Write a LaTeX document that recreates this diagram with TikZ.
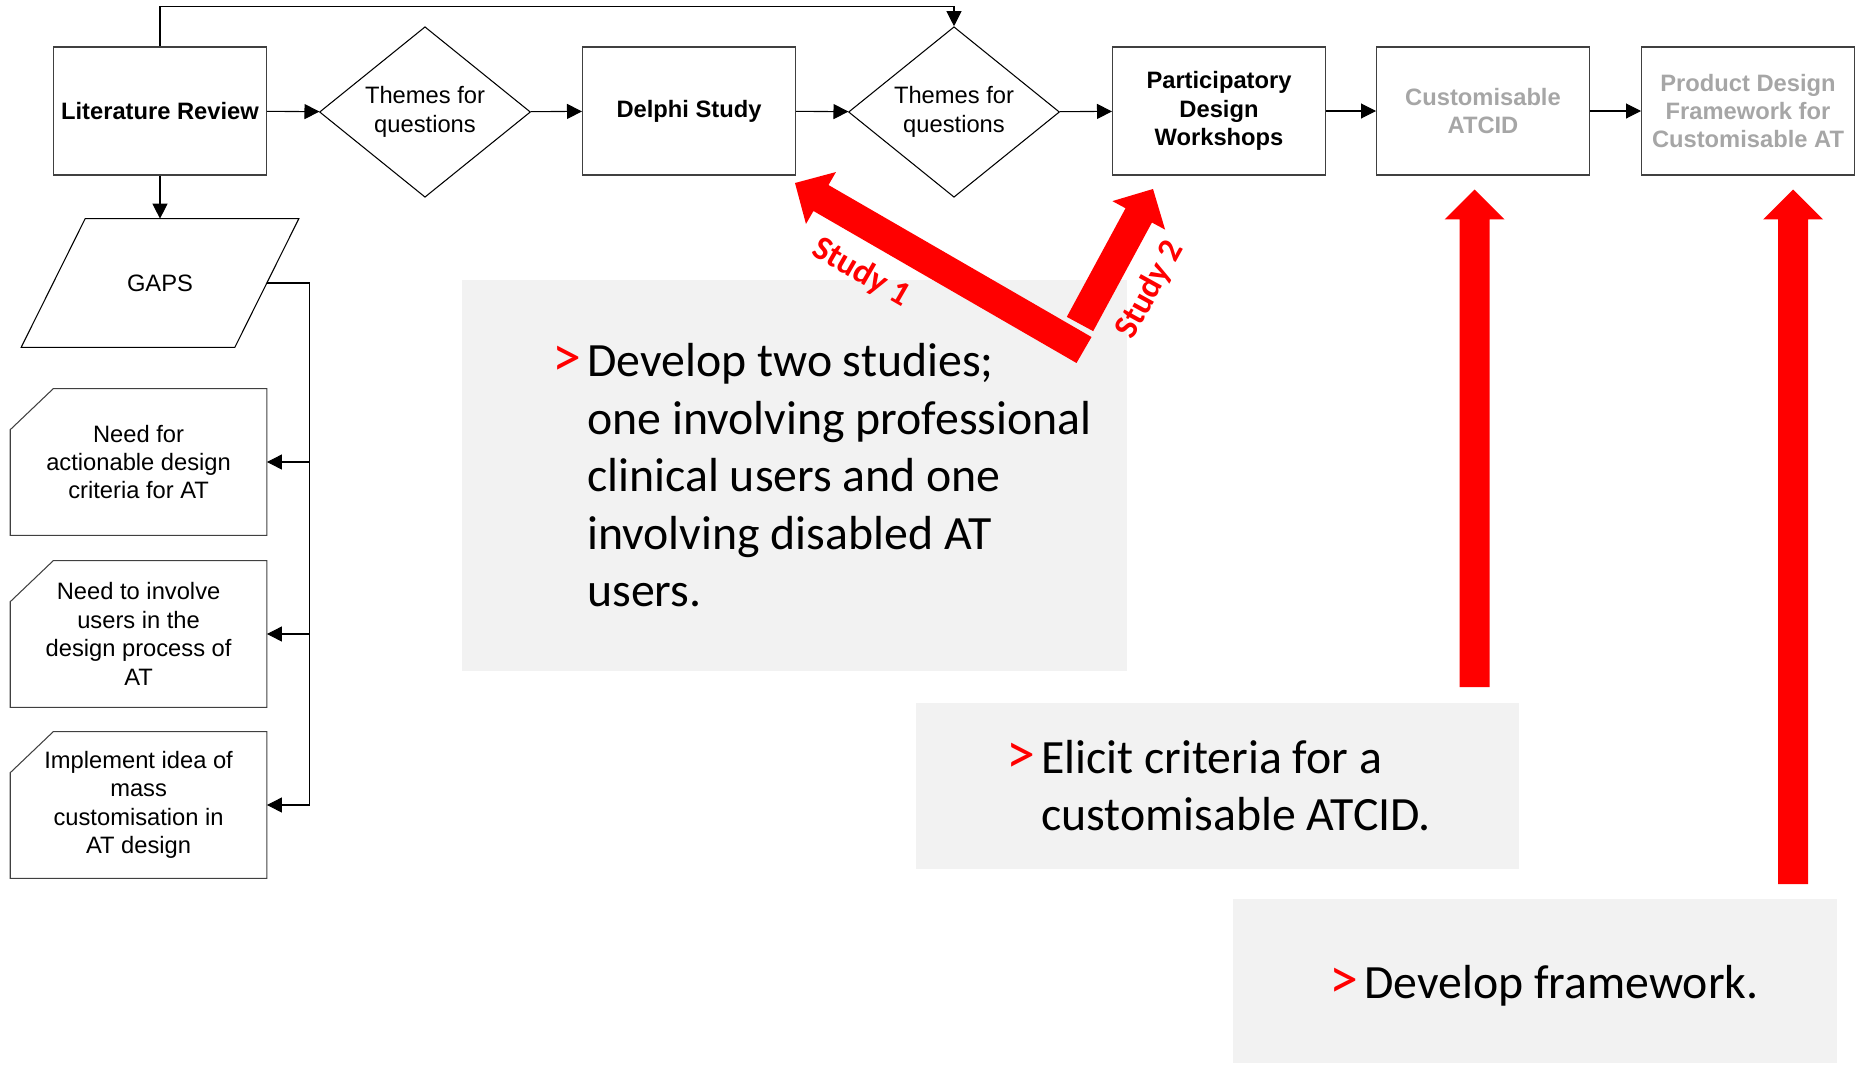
\documentclass[tikz,border=0pt]{standalone}
\usepackage{fontspec}
\setmainfont{Liberation Sans}
\newfontfamily\calibri{Carlito}
\usetikzlibrary{arrows.meta,shapes.geometric,calc}

\definecolor{panelgrey}{HTML}{F2F2F2}
\definecolor{fadedgrey}{HTML}{A6A6A6}
\definecolor{framegrey}{HTML}{404040}

\newcommand{\flowtext}{\fontsize{13.5}{16.2}\selectfont}
\newcommand{\bigtext}{\calibri\fontsize{27.2}{32.7}\selectfont}
\newcommand{\studytext}{\calibri\fontsize{19.5}{21}\selectfont\bfseries}
\newcommand{\redmark}{\llap{\textcolor{red}{\fontsize{33}{33}\selectfont >}\hspace{0.12cm}}}

% red block arrow: #1 tail, #2 tip
\newcommand{\blockarrow}[2]{%
	\coordinate (hb) at ($#2!0.6cm!#1$);
	\fill[red] ($#1!0.3cm!90:#2$) -- ($(hb)!0.3cm!90:#2$) -- ($(hb)!0.6cm!90:#2$) -- #2
		-- ($(hb)!0.6cm!-90:#2$) -- ($(hb)!0.3cm!-90:#2$) -- ($#1!0.3cm!-90:#2$) -- cycle;}

\begin{document}
\begin{tikzpicture}[x=0.02cm,y=-0.02cm,
		flowbox/.style={draw=framegrey,line width=0.6pt,minimum width=4.26cm,minimum height=2.56cm,
			inner sep=0pt,align=center,font=\flowtext\bfseries},
		theme/.style={diamond,draw,line width=0.6pt,minimum width=4.22cm,minimum height=2.56cm,
			inner sep=0pt,align=center,font=\flowtext},
		gapbox/.style={minimum width=5.12cm,minimum height=2.92cm,inner sep=0pt,align=center,font=\flowtext},
		link/.style={line width=0.6pt,-{Triangle[length=0.3cm,width=0.3cm]}},
		panel/.style={fill=panelgrey,inner sep=0pt},
		aim/.style={anchor=base west,align=left,inner sep=0pt,font=\bigtext}]
	\useasboundingbox (0,0) rectangle (1857,1065);

	% grey panels
	\node[panel,minimum width=13.3cm,minimum height=7.84cm] (panelA) at (794.5,475.5) {};
	\node[panel,minimum width=12.08cm,minimum height=3.31cm] (panelB) at (1217.5,786) {};
	\node[panel,minimum width=12.08cm,minimum height=3.29cm] (panelC) at (1535,981) {};

	% (base = baseline of the last line)
	\node[aim] (aimA) at (587,606.7) {\redmark Develop two studies;\\
		one involving professional\\clinical users and one\\involving disabled AT\\users.};
	\node[aim] (aimB) at (1041,830.7) {\redmark Elicit criteria for a\\
		customisable ATCID.};
	\node[aim] (aimC) at (1364,998) {\redmark Develop framework.};

	% main flow
	\node[flowbox] (lit) at (160,111) {Literature Review};
	\node[theme] (th1) at (425,112) {Themes for\\questions};
	\node[flowbox] (delphi) at (689,111) {Delphi Study};
	\node[theme] (th2) at (954,112) {Themes for\\questions};
	\node[flowbox] (pdw) at (1219,111) {Participatory\\Design\\Workshops};
	\node[flowbox,text=fadedgrey] (atcid) at (1483,111) {Customisable\\ATCID};
	\node[flowbox,text=fadedgrey] (pdf) at (1748,111) {Product Design\\Framework for\\Customisable AT};

	\draw[link] (lit) -- (th1);
	\draw[link] (th1) -- (delphi);
	\draw[link] (delphi) -- (th2);
	\draw[link] (th2) -- (pdw);
	\draw[link] (pdw) -- (atcid);
	\draw[link] (atcid) -- (pdf);
	\draw[link] (lit.north) -- ++(0,-40) -| (th2.north);

	% gaps
	\node[gapbox,minimum width=4.26cm,minimum height=2.56cm] (gaps) at (160,283) {GAPS};
	\draw[line width=0.6pt] ($(gaps.north west)+(32,0)$) -- ($(gaps.north east)+(32,0)$)
		-- ($(gaps.south east)-(32,0)$) -- ($(gaps.south west)-(32,0)$) -- cycle;
	\draw[link] (lit) -- (gaps);

	\node[gapbox] (need1) at (138.6,462) {Need for\\actionable design\\criteria for AT};
	\node[gapbox] (need2) at (138.6,634) {Need to involve\\users in the\\design process of\\AT};
	\node[gapbox] (need3) at (138.6,805) {Implement idea of\\mass\\customisation in\\AT design};
	\draw[framegrey,line width=0.6pt] ($(need1.north west)+(43,0)$) -- (need1.north east) -- (need1.south east)
		-- (need1.south west) -- ($(need1.north west)+(0,41)$) -- cycle;
	\draw[framegrey,line width=0.6pt] ($(need2.north west)+(43,0)$) -- (need2.north east) -- (need2.south east)
		-- (need2.south west) -- ($(need2.north west)+(0,41)$) -- cycle;
	\draw[framegrey,line width=0.6pt] ($(need3.north west)+(43,0)$) -- (need3.north east) -- (need3.south east)
		-- (need3.south west) -- ($(need3.north west)+(0,41)$) -- cycle;

	\draw[line width=0.6pt] (gaps.east) -- ++(43,0) coordinate (bus) -- (bus |- need3.east);
	\draw[link] (bus |- need1.east) -- (need1.east);
	\draw[link] (bus |- need2.east) -- (need2.east);
	\draw[link] (bus |- need3.east) -- (need3.east);

	% red arrows
	\coordinate (s1tail) at (1084,350);
	\coordinate (s1tip) at (795,183);
	\coordinate (s2tail) at (1080,324);
	\coordinate (s2tip) at (1153,189);
	\coordinate (c1tail) at (1474.5,687);
	\coordinate (c1tip) at (1474.5,189.5);
	\coordinate (c2tail) at (1793,884);
	\coordinate (c2tip) at (1793,189.5);
	\blockarrow{(s1tail)}{(s1tip)}
	\blockarrow{(s2tail)}{(s2tip)}
	\blockarrow{(c1tail)}{(c1tip)}
	\blockarrow{(c2tail)}{(c2tip)}

	\node[text=red,font=\studytext,rotate=-30] (study1) at (861,273) {Study 1};
	\node[text=red,font=\studytext,rotate=61] (study2) at (1150,290) {Study 2};
\end{tikzpicture}
\end{document}
